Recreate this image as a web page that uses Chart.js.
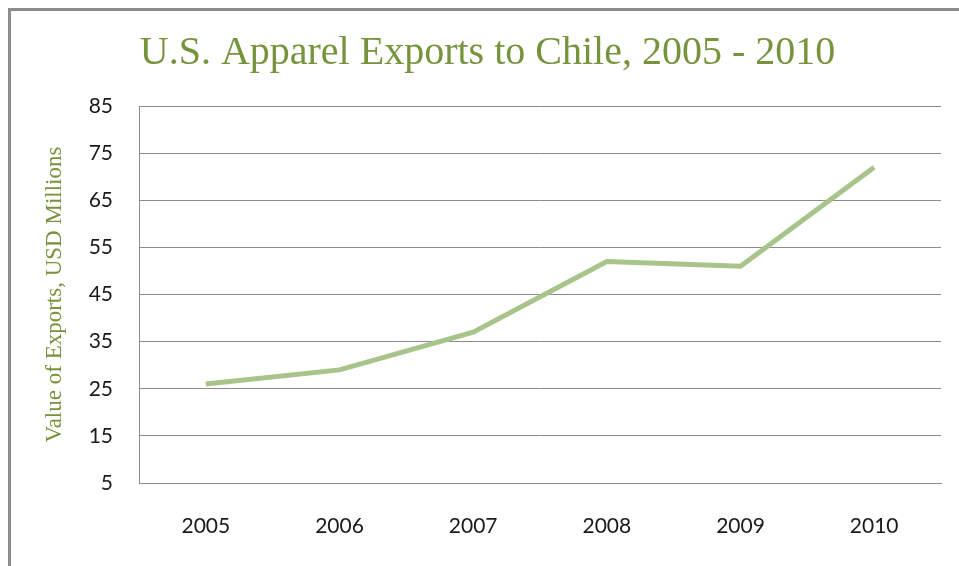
<!DOCTYPE html>
<html>
<head>
<meta charset="utf-8">
<script src="https://cdn.jsdelivr.net/npm/chart.js@4.4.0/dist/chart.umd.min.js"></script>
<style>
html,body{margin:0;padding:0;background:#fff;}
#wrap{position:relative;width:959px;height:566px;}
</style>
</head>
<body>
<div id="wrap"><canvas id="c" width="959" height="566"></canvas></div>
<script>
const chartTitle = "U.S. Apparel Exports to Chile, 2005 - 2010";
const yAxisTitle = "Value of Exports, USD Millions";
const years = ["2005", "2006", "2007", "2008", "2009", "2010"];
const exportValues = [26, 29, 37, 52, 51, 72];
const yMin = 5, yMax = 85, yStep = 10;

const framePlugin = {
  id: 'frame',
  beforeDraw(chart) {
    const ctx = chart.ctx;
    ctx.save();
    ctx.fillStyle = '#ffffff';
    ctx.fillRect(0, 0, chart.width, chart.height);
    ctx.strokeStyle = '#8c8c8c';
    ctx.lineWidth = 3;
    ctx.beginPath();
    ctx.moveTo(9.5, chart.height);
    ctx.lineTo(9.5, 9.5);
    ctx.lineTo(chart.width, 9.5);
    ctx.stroke();
    ctx.restore();
  }
};

new Chart(document.getElementById('c'), {
  type: 'line',
  data: {
    labels: years,
    datasets: [{
      data: exportValues,
      borderColor: '#a8c48a',
      borderWidth: 5,
      pointRadius: 0,
      pointHoverRadius: 0,
      tension: 0,
      fill: false
    }]
  },
  options: {
    responsive: false,
    animation: false,
    events: [],
    layout: { padding: { left: 34, right: 18, top: 0, bottom: 0 } },
    plugins: {
      legend: { display: false },
      tooltip: { enabled: false },
      title: {
        display: true,
        text: chartTitle,
        color: '#77933c',
        font: { family: 'Liberation Serif', size: 40, weight: 'normal' },
        padding: { top: 29, bottom: 29 }
      }
    },
    scales: {
      x: {
        offset: true,
        grid: { display: false, drawTicks: false },
        border: { display: true, color: '#8c8c8c', width: 1 },
        ticks: { color: '#1a1a1a', font: { family: 'Lato', size: 21 }, padding: 31, maxRotation: 0 },
        afterFit(scale) { scale.height = 83; }
      },
      y: {
        min: yMin,
        max: yMax,
        ticks: { stepSize: yStep, color: '#1a1a1a', font: { family: 'Lato', size: 21 }, padding: 26 },
        grid: { color: '#8c8c8c', lineWidth: 1, drawTicks: false },
        border: { display: true, color: '#8c8c8c', width: 1 },
        title: {
          display: true,
          text: yAxisTitle,
          color: '#77933c',
          font: { family: 'Liberation Serif', size: 23, weight: 'normal' },
          padding: { top: 7, bottom: 0 }
        },
        afterFit(scale) { scale.width = 105; }
      }
    }
  },
  plugins: [framePlugin]
});
</script>
</body>
</html>
